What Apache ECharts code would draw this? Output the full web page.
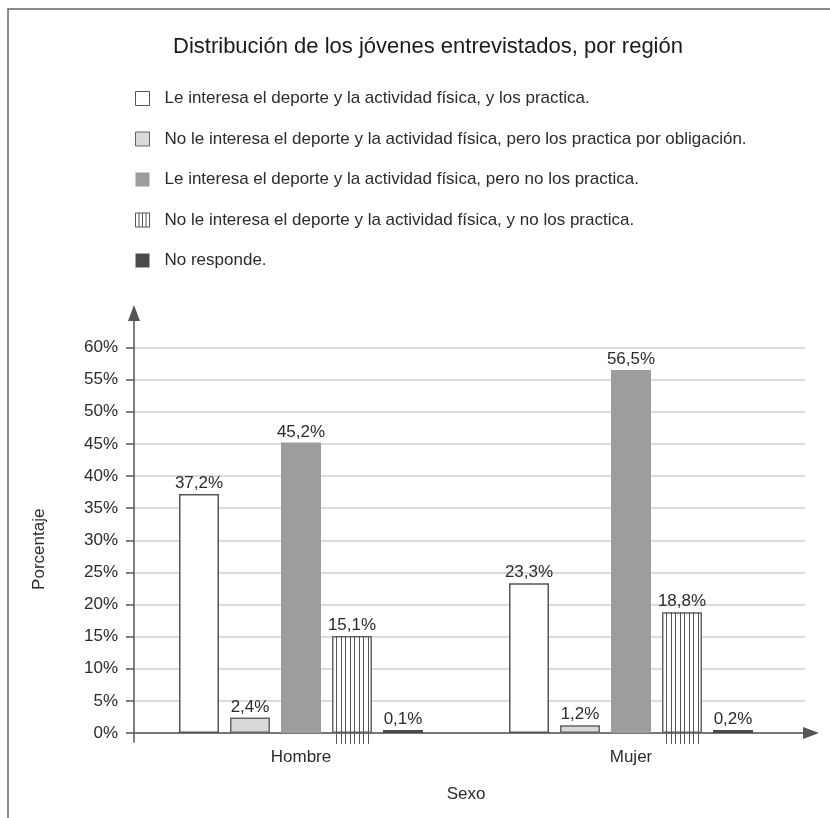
<!DOCTYPE html>
<html>
<head>
<meta charset="utf-8">
<script src="https://cdn.jsdelivr.net/npm/echarts@6/dist/echarts.min.js"></script>
<style>
html,body{margin:0;padding:0;background:#fff;}
#chart{width:830px;height:818px;}
</style>
</head>
<body>
<div id="chart"></div>
<script>
// ---- data ----
const categories = ['Hombre', 'Mujer'];
const seriesNames = [
  'Le interesa el deporte y la actividad física, y los practica.',
  'No le interesa el deporte y la actividad física, pero los practica por obligación.',
  'Le interesa el deporte y la actividad física, pero no los practica.',
  'No le interesa el deporte y la actividad física, y no los practica.',
  'No responde.'
];
const practicaSi = [37.2, 23.3];
const practicaObligacion = [2.4, 1.2];
const interesaNoPractica = [45.2, 56.5];
const noInteresaNoPractica = [15.1, 18.8];
const noResponde = [0.1, 0.2];
const yMin = 0, yMax = 60, yStep = 5;
const titleText = 'Distribución de los jóvenes entrevistados, por región';
const xName = 'Sexo';
const yName = 'Porcentaje';

// ---- style ----
const FONT = "'Liberation Sans', Arial, sans-serif";
const BAR_W = 40;
const BAR_GAP = 0.275;
const TXT = '#2b2b2b';
const AX = '#555';

const fmt = p => p.value.toFixed(1).replace('.', ',') + '%';
const labelCfg = { show: true, position: 'top', distance: 2, color: TXT, fontSize: 17, fontFamily: FONT, formatter: fmt };

function bar(name, data, itemStyle, extra) {
  return Object.assign({
    name, type: 'bar', data, xAxisIndex: 0, yAxisIndex: 0,
    barWidth: BAR_W, barGap: (BAR_GAP * 100) + '%',
    itemStyle, label: labelCfg, emphasis: { disabled: true }, animation: false
  }, extra || {});
}

const chart = echarts.init(document.getElementById('chart'), null, { renderer: 'canvas' });

const stripeSeries = {
  name: 'stripes', type: 'custom', xAxisIndex: 0, yAxisIndex: 0, silent: true, z: 3,
  data: noInteresaNoPractica.map((v, i) => [i, v]),
  renderItem: function (params, api) {
    const slot = 3, n = 5;
    const step = BAR_W * (1 + BAR_GAP);
    const top = api.coord([api.value(0), api.value(1)]);
    const base = api.coord([api.value(0), 0]);
    const cx = top[0] + (slot - (n - 1) / 2) * step;
    const left = cx - BAR_W / 2;
    const children = [];
    for (let k = 1; k <= 8; k++) {
      const x = Math.round(left + k * BAR_W / 9) + 0.5;
      children.push({ type: 'line', shape: { x1: x, y1: top[1], x2: x, y2: base[1] + 11 }, style: { stroke: AX, lineWidth: 1 } });
    }
    return { type: 'group', children };
  },
  animation: false
};

const arrowLine = { show: true, symbol: ['none', 'triangle'], symbolSize: [12, 16], lineStyle: { color: AX, width: 1.5 } };

const option = {
  backgroundColor: '#fff',
  animation: false,
  textStyle: { fontFamily: FONT },
  title: {
    text: titleText, left: 428, top: 36, textAlign: 'center', padding: 0,
    textStyle: { fontFamily: FONT, fontSize: 22, fontWeight: 'normal', color: '#1a1a1a' }
  },
  legend: {
    orient: 'vertical', left: 135, top: 90, padding: 0,
    itemWidth: 14, itemHeight: 14, itemGap: 23.5, icon: 'rect',
    selectedMode: false,
    textStyle: { fontFamily: FONT, fontSize: 17, color: TXT, padding: [0, 0, 0, 10] },
    data: [
      { name: seriesNames[0], itemStyle: { borderWidth: 1 } },
      { name: seriesNames[1], itemStyle: { borderWidth: 1 } },
      { name: seriesNames[2] },
      { name: seriesNames[3], icon: 'path://M0,0 H12 V12 H0 Z M3,0 V12 M6,0 V12 M9,0 V12', itemStyle: { color: '#fff', borderColor: '#555', borderWidth: 1 } },
      { name: seriesNames[4] }
    ]
  },
  graphic: [
    { type: 'rect', shape: { x: 8, y: 9, width: 900, height: 900 }, style: { fill: null, stroke: '#666', lineWidth: 1.5 }, silent: true, z: -10 }
  ],
  grid: [
    { left: 136, right: 34, top: 347.5, bottom: 85 },
    { left: 134, right: 25, top: 347.5, bottom: 85 },
    { left: 134, right: 25, top: 313, bottom: 76 },
    { left: 134, right: 19, top: 347.5, bottom: 85 }
  ],
  xAxis: [
    {
      gridIndex: 0, type: 'category', data: categories,
      axisLine: { show: false }, axisTick: { show: false },
      axisLabel: { color: TXT, fontSize: 17, fontFamily: FONT, margin: 16 },
      name: xName, nameLocation: 'middle', nameGap: 53,
      nameTextStyle: { color: TXT, fontSize: 17, fontFamily: FONT }
    },
    { gridIndex: 1, type: 'value', min: 0, max: 1, show: false },
    { gridIndex: 2, type: 'value', min: 0, max: 1, show: false },
    {
      gridIndex: 3, type: 'value', min: 0, max: 1,
      axisLine: arrowLine,
      axisTick: { show: false }, axisLabel: { show: false }, splitLine: { show: false }
    }
  ],
  yAxis: [
    { gridIndex: 0, type: 'value', min: yMin, max: yMax, interval: yStep, show: false, splitLine: { show: false } },
    {
      gridIndex: 1, type: 'value', min: yMin, max: yMax, interval: yStep,
      axisLine: { show: false },
      axisTick: { show: true, length: 8, lineStyle: { color: AX, width: 1.5 } },
      axisLabel: { color: TXT, fontSize: 17, fontFamily: FONT, margin: 16, formatter: '{value}%' },
      splitLine: { show: true, lineStyle: { color: '#cfcfcf', width: 1.5 } },
      name: yName, nameLocation: 'middle', nameGap: 86, nameRotate: 90,
      nameTextStyle: { color: TXT, fontSize: 17, fontFamily: FONT, padding: [0, 18, 0, 0] }
    },
    {
      gridIndex: 2, type: 'value', min: 0, max: 1,
      axisLine: arrowLine,
      axisTick: { show: false }, axisLabel: { show: false }, splitLine: { show: false }
    },
    { gridIndex: 3, type: 'value', min: 0, max: 1, show: false }
  ],
  series: [
    bar(seriesNames[0], practicaSi, { color: '#ffffff', borderColor: '#555', borderWidth: 1.5 }),
    bar(seriesNames[1], practicaObligacion, { color: '#d9d9d9', borderColor: '#666', borderWidth: 1.5 }),
    bar(seriesNames[2], interesaNoPractica, { color: '#9d9d9d' }),
    bar(seriesNames[3], noInteresaNoPractica, { color: '#ffffff', borderColor: '#666', borderWidth: 1.5 }),
    bar(seriesNames[4], noResponde, { color: '#4a4a4a' }, { barMinHeight: 3 }),
    stripeSeries
  ]
};
chart.setOption(option);
</script>
</body>
</html>
